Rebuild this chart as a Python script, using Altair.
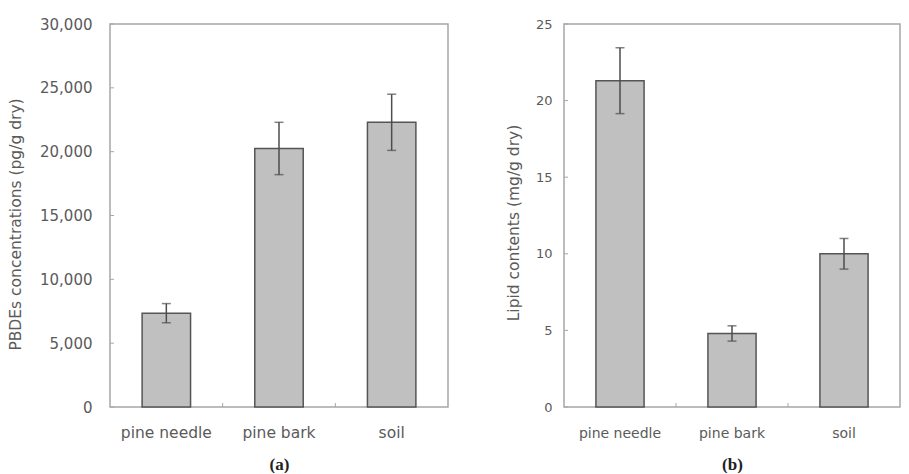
import altair as alt
import pandas as pd

# Sample types shared by both panels
categories = ["pine needle", "pine bark", "soil"]

# Panel (a): PBDE concentrations, mean and error (pg/g dry)
pbde_mean = [7350, 20250, 22300]
pbde_err = [750, 2050, 2200]
pbde_ticks = [0, 5000, 10000, 15000, 20000, 25000, 30000]

# Panel (b): lipid contents, mean and error (mg/g dry)
lipid_mean = [21.3, 4.8, 10.0]
lipid_err = [2.15, 0.5, 1.0]
lipid_ticks = [0, 5, 10, 15, 20, 25]

PLOT_H = 383
FRAME = "#a6a6a6"
TEXT = "#5a5a5a"


def panel(mean, err, ticks, ytitle, caption, width, fmt,
          label_size, label_pad, cat_size, cat_pad, title_x, title_y):
    df = pd.DataFrame({"category": categories, "value": mean, "err": err})
    df["lo"] = df["value"] - df["err"]
    df["hi"] = df["value"] + df["err"]

    x_scale = alt.Scale(paddingInner=0.57, paddingOuter=0.285)
    x_axis = alt.Axis(
        title=caption, labelAngle=0, ticks=False, domain=False,
        labelFontSize=cat_size, labelPadding=cat_pad, labelBaseline="middle",
        titleFont="Liberation Serif", titleFontWeight="bold", titleFontSize=17,
        titleColor="#222222", titleY=62, titleBaseline="alphabetic",
    )
    y_axis = alt.Axis(
        title=ytitle, values=ticks, format=fmt, grid=False, ticks=False,
        domain=False, labelFontSize=label_size, labelPadding=label_pad,
        titleFontSize=15.5, titleX=title_x, titleY=title_y, titleAngle=270,
        titleAlign="center", titleBaseline="middle",
    )
    x = alt.X("category:N", sort=categories, scale=x_scale, axis=x_axis)
    xs = alt.X("category:N", sort=categories)
    y = alt.Y("value:Q", scale=alt.Scale(domain=[ticks[0], ticks[-1]], nice=False),
              axis=y_axis)

    base = alt.Chart(df)
    bars = base.mark_bar(fill="#c0c0c0", stroke="#555555", strokeWidth=1.5).encode(x=x, y=y)
    whisker = base.mark_rule(color="#4d4d4d", strokeWidth=1.5).encode(
        x=xs, y=alt.Y("lo:Q"), y2="hi:Q")
    cap_hi = base.mark_tick(color="#4d4d4d", size=9, thickness=1.5).encode(
        x=xs, y=alt.Y("hi:Q"))
    cap_lo = base.mark_tick(color="#4d4d4d", size=9, thickness=1.5).encode(
        x=xs, y=alt.Y("lo:Q"))

    # small inward ticks on the value axis
    inner = alt.Chart(pd.DataFrame({"t": ticks})).mark_rule(
        color=FRAME, strokeWidth=1).encode(
        y=alt.Y("t:Q"), x=alt.value(0), x2=alt.value(4))

    # small upward ticks between categories on the bottom edge
    step = width / 3.0
    sep = alt.Chart(pd.DataFrame({"category": categories[1:]})).mark_rule(
        color=FRAME, strokeWidth=1, xOffset=-step / 2).encode(
        x=xs, y=alt.value(PLOT_H), y2=alt.value(PLOT_H - 4))

    return alt.layer(bars, whisker, cap_hi, cap_lo, inner, sep).properties(
        width=width, height=PLOT_H)


left = panel(pbde_mean, pbde_err, pbde_ticks, "PBDEs concentrations (pg/g dry)", "(a)",
             338, ",.0f", 15, 18, 15.5, 25, -95, 200)
right = panel(lipid_mean, lipid_err, lipid_ticks, "Lipid contents (mg/g dry)", "(b)",
              336, "d", 13, 12, 14, 26, -50.5, 198.5)

chart = alt.hconcat(left, right, spacing=56).properties(
    padding={"left": 7, "top": 16, "right": 5, "bottom": 0},
    background="white",
).configure_view(
    stroke=FRAME, strokeWidth=1.5
).configure_axis(
    labelFont="DejaVu Sans", titleFont="DejaVu Sans",
    labelColor=TEXT, titleColor=TEXT, titleFontWeight="normal",
)

chart.save("out.html", embed_options={"renderer": "svg", "actions": False})
